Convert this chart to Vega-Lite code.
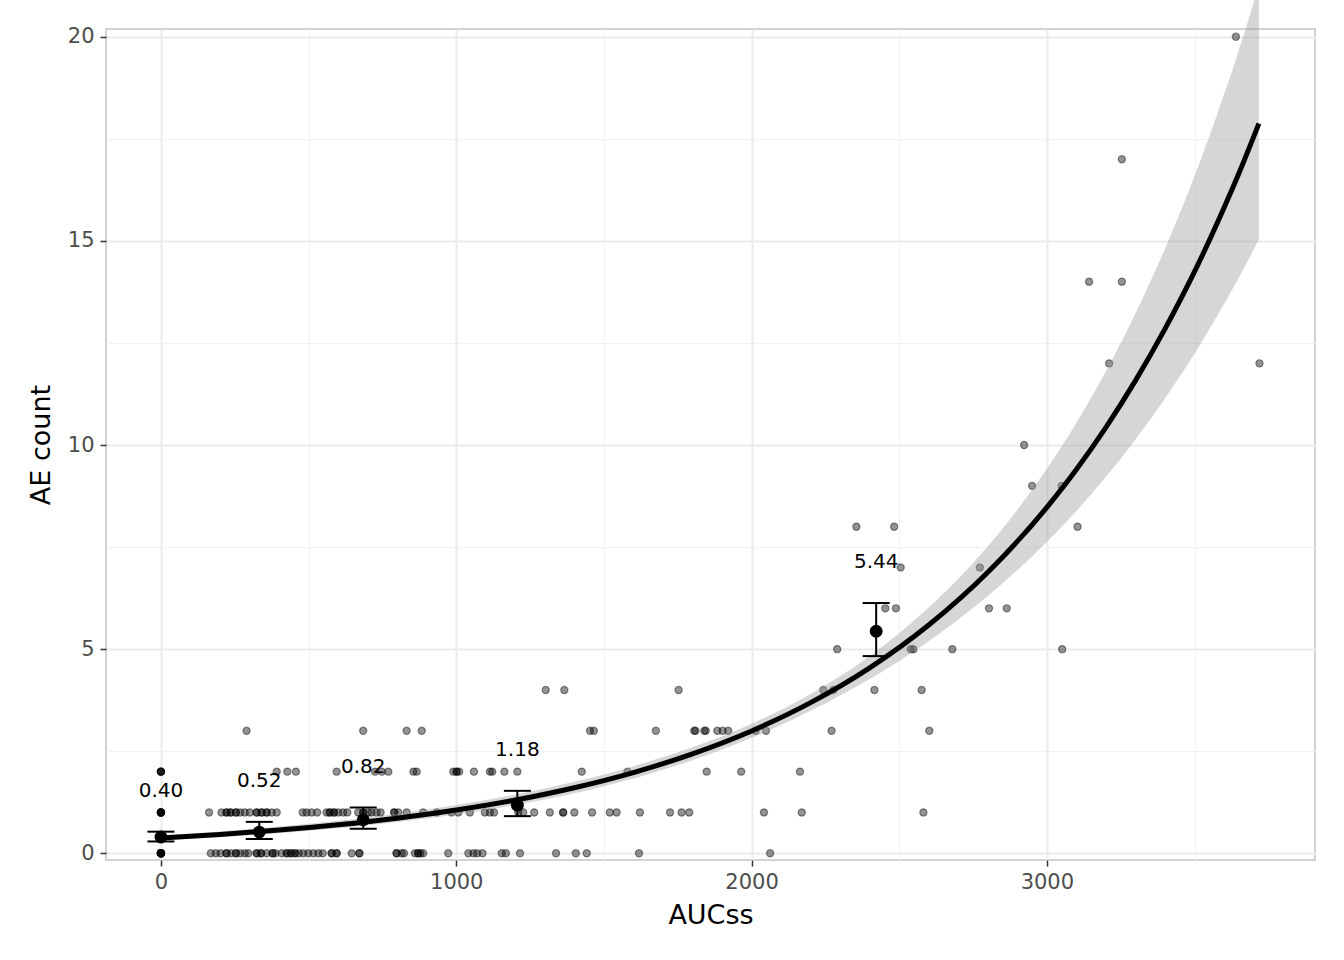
{
  "$schema": "https://vega.github.io/schema/vega-lite/v6.json",
  "width": 1209,
  "height": 831,
  "autosize": {"type": "none"},
  "padding": {"left": 106, "top": 29, "right": 29, "bottom": 100},
  "background": "#FFFFFF",
  "config": {
    "font": "DejaVu Sans",
    "view": {"stroke": "#C4C4C4", "strokeWidth": 1.5},
    "axis": {
      "domain": false,
      "tickColor": "#333333",
      "tickSize": 6,
      "tickWidth": 1.5,
      "labelColor": "#4D4D4D",
      "labelFontSize": 21,
      "labelFont": "DejaVu Sans",
      "titleFont": "DejaVu Sans",
      "titleFontSize": 27,
      "titleFontWeight": "normal",
      "titleColor": "#000000",
      "gridColor": "#EBEBEB",
      "gridWidth": 2
    }
  },
  "datasets": {
    "pts": [
      {"x":0,"y":0},{"x":0,"y":0},{"x":0,"y":0},{"x":0,"y":0},{"x":0,"y":0},{"x":0,"y":0},{"x":0,"y":0},{"x":0,"y":0},{"x":0,"y":0},{"x":0,"y":0},
      {"x":0,"y":1},{"x":0,"y":1},{"x":0,"y":1},{"x":0,"y":1},{"x":0,"y":1},{"x":0,"y":1},
      {"x":0,"y":2},{"x":0,"y":2},{"x":0,"y":2},{"x":0,"y":2},
      {"x":169,"y":0},{"x":186,"y":0},{"x":202,"y":0},{"x":222,"y":0},{"x":222,"y":0},{"x":237,"y":0},{"x":254,"y":0},{"x":254,"y":0},{"x":268,"y":0},{"x":284,"y":0},{"x":296,"y":0},{"x":324,"y":0},{"x":324,"y":0},{"x":339,"y":0},{"x":339,"y":0},{"x":358,"y":0},{"x":378,"y":0},{"x":378,"y":0},{"x":388,"y":0},{"x":409,"y":0},{"x":426,"y":0},{"x":426,"y":0},{"x":440,"y":0},{"x":440,"y":0},{"x":454,"y":0},{"x":454,"y":0},{"x":467,"y":0},{"x":482,"y":0},{"x":499,"y":0},{"x":516,"y":0},{"x":533,"y":0},{"x":548,"y":0},{"x":578,"y":0},{"x":578,"y":0},{"x":595,"y":0},{"x":595,"y":0},{"x":646,"y":0},{"x":672,"y":0},{"x":672,"y":0},{"x":798,"y":0},{"x":798,"y":0},{"x":815,"y":0},{"x":823,"y":0},{"x":860,"y":0},{"x":871,"y":0},{"x":871,"y":0},{"x":879,"y":0},{"x":888,"y":0},{"x":973,"y":0},{"x":1041,"y":0},{"x":1058,"y":0},{"x":1071,"y":0},{"x":1089,"y":0},{"x":1154,"y":0},{"x":1168,"y":0},{"x":1216,"y":0},{"x":1338,"y":0},{"x":1405,"y":0},{"x":1442,"y":0},{"x":1619,"y":0},{"x":2063,"y":0},
      {"x":163,"y":1},{"x":205,"y":1},{"x":222,"y":1},{"x":222,"y":1},{"x":236,"y":1},{"x":236,"y":1},{"x":254,"y":1},{"x":254,"y":1},{"x":268,"y":1},{"x":284,"y":1},{"x":301,"y":1},{"x":324,"y":1},{"x":324,"y":1},{"x":341,"y":1},{"x":341,"y":1},{"x":358,"y":1},{"x":358,"y":1},{"x":375,"y":1},{"x":392,"y":1},{"x":480,"y":1},{"x":493,"y":1},{"x":510,"y":1},{"x":529,"y":1},{"x":561,"y":1},{"x":572,"y":1},{"x":572,"y":1},{"x":586,"y":1},{"x":586,"y":1},{"x":600,"y":1},{"x":617,"y":1},{"x":631,"y":1},{"x":668,"y":1},{"x":685,"y":1},{"x":685,"y":1},{"x":702,"y":1},{"x":713,"y":1},{"x":730,"y":1},{"x":744,"y":1},{"x":790,"y":1},{"x":790,"y":1},{"x":804,"y":1},{"x":832,"y":1},{"x":888,"y":1},{"x":934,"y":1},{"x":984,"y":1},{"x":1007,"y":1},{"x":1046,"y":1},{"x":1097,"y":1},{"x":1114,"y":1},{"x":1128,"y":1},{"x":1210,"y":1},{"x":1227,"y":1},{"x":1264,"y":1},{"x":1317,"y":1},{"x":1362,"y":1},{"x":1362,"y":1},{"x":1400,"y":1},{"x":1460,"y":1},{"x":1520,"y":1},{"x":1543,"y":1},{"x":1622,"y":1},{"x":1724,"y":1},{"x":1763,"y":1},{"x":1789,"y":1},{"x":2042,"y":1},{"x":2170,"y":1},{"x":2582,"y":1},
      {"x":392,"y":2},{"x":428,"y":2},{"x":457,"y":2},{"x":595,"y":2},{"x":725,"y":2},{"x":748,"y":2},{"x":770,"y":2},{"x":855,"y":2},{"x":866,"y":2},{"x":990,"y":2},{"x":1001,"y":2},{"x":1001,"y":2},{"x":1010,"y":2},{"x":1060,"y":2},{"x":1114,"y":2},{"x":1122,"y":2},{"x":1163,"y":2},{"x":1207,"y":2},{"x":1425,"y":2},{"x":1580,"y":2},{"x":1848,"y":2},{"x":1965,"y":2},{"x":2164,"y":2},
      {"x":290,"y":3},{"x":685,"y":3},{"x":832,"y":3},{"x":883,"y":3},{"x":1453,"y":3},{"x":1466,"y":3},{"x":1676,"y":3},{"x":1806,"y":3},{"x":1810,"y":3},{"x":1840,"y":3},{"x":1845,"y":3},{"x":1884,"y":3},{"x":1902,"y":3},{"x":1921,"y":3},{"x":2014,"y":3},{"x":2049,"y":3},{"x":2271,"y":3},{"x":2602,"y":3},
      {"x":1303,"y":4},{"x":1366,"y":4},{"x":1753,"y":4},{"x":2243,"y":4},{"x":2277,"y":4},{"x":2416,"y":4},{"x":2576,"y":4},
      {"x":2290,"y":5},{"x":2539,"y":5},{"x":2548,"y":5},{"x":2680,"y":5},{"x":3052,"y":5},
      {"x":2453,"y":6},{"x":2489,"y":6},{"x":2804,"y":6},{"x":2864,"y":6},
      {"x":2505,"y":7},{"x":2773,"y":7},
      {"x":2355,"y":8},{"x":2483,"y":8},{"x":3104,"y":8},
      {"x":2950,"y":9},{"x":3050,"y":9},
      {"x":2923,"y":10},
      {"x":3211,"y":12},{"x":3720,"y":12},
      {"x":3143,"y":14},{"x":3254,"y":14},
      {"x":3254,"y":17},
      {"x":3640,"y":20}
    ],
    "fit": [
      {"x":0,"fit":0.375,"lo":0.320,"hi":0.440},
      {"x":200,"fit":0.462,"lo":0.397,"hi":0.536},
      {"x":400,"fit":0.568,"lo":0.494,"hi":0.654},
      {"x":600,"fit":0.700,"lo":0.614,"hi":0.797},
      {"x":800,"fit":0.861,"lo":0.764,"hi":0.971},
      {"x":1000,"fit":1.060,"lo":0.950,"hi":1.184},
      {"x":1200,"fit":1.305,"lo":1.181,"hi":1.443},
      {"x":1400,"fit":1.607,"lo":1.471,"hi":1.754},
      {"x":1600,"fit":1.978,"lo":1.833,"hi":2.134},
      {"x":1800,"fit":2.435,"lo":2.282,"hi":2.598},
      {"x":2000,"fit":2.997,"lo":2.831,"hi":3.173},
      {"x":2200,"fit":3.690,"lo":3.490,"hi":3.902},
      {"x":2400,"fit":4.543,"lo":4.271,"hi":4.833},
      {"x":2600,"fit":5.592,"lo":5.196,"hi":6.018},
      {"x":2800,"fit":6.884,"lo":6.302,"hi":7.520},
      {"x":3000,"fit":8.474,"lo":7.627,"hi":9.416},
      {"x":3100,"fit":9.400,"lo":8.385,"hi":10.538},
      {"x":3200,"fit":10.433,"lo":9.221,"hi":11.805},
      {"x":3300,"fit":11.577,"lo":10.137,"hi":13.221},
      {"x":3400,"fit":12.844,"lo":11.141,"hi":14.808},
      {"x":3500,"fit":14.246,"lo":12.239,"hi":16.582},
      {"x":3600,"fit":15.812,"lo":13.455,"hi":18.584},
      {"x":3650,"fit":16.650,"lo":14.098,"hi":19.666},
      {"x":3718,"fit":17.876,"lo":15.036,"hi":21.253}
    ],
    "summ": [
      {"x":0,"mean":0.40,"lo":0.29,"hi":0.53,"label":"0.40"},
      {"x":333,"mean":0.52,"lo":0.35,"hi":0.77,"label":"0.52"},
      {"x":685,"mean":0.82,"lo":0.60,"hi":1.12,"label":"0.82"},
      {"x":1207,"mean":1.18,"lo":0.91,"hi":1.53,"label":"1.18"},
      {"x":2422,"mean":5.44,"lo":4.83,"hi":6.13,"label":"5.44"}
    ]
  },
  "resolve": {"axis": {"x": "independent", "y": "independent"}},
  "layer": [
    {
      "data": {"name": "pts"},
      "mark": {"type": "circle", "size": 52, "fill": "#000000", "fillOpacity": 0.42, "stroke": "#000000", "strokeOpacity": 0.42, "strokeWidth": 1.2},
      "encoding": {
        "x": {"field": "x", "type": "quantitative", "scale": {"domain": [-186, 3908], "nice": false, "zero": false},
              "axis": {"orient": "bottom", "values": [500, 1500, 2500, 3500], "grid": true, "gridColor": "#F2F2F2", "gridWidth": 1, "labels": false, "ticks": false, "domain": false, "title": null}},
        "y": {"field": "y", "type": "quantitative", "scale": {"domain": [-0.164, 20.19], "nice": false, "zero": false},
              "axis": {"orient": "left", "values": [2.5, 7.5, 12.5, 17.5], "grid": true, "gridColor": "#F2F2F2", "gridWidth": 1, "labels": false, "ticks": false, "domain": false, "title": null}}
      }
    },
    {
      "data": {"name": "fit"},
      "mark": {"type": "area", "interpolate": "monotone", "fill": "#999999", "fillOpacity": 0.4, "clip": false},
      "encoding": {
        "x": {"field": "x", "type": "quantitative", "axis": null},
        "y": {"field": "lo", "type": "quantitative", "axis": null},
        "y2": {"field": "hi"}
      }
    },
    {
      "data": {"name": "fit"},
      "mark": {"type": "line", "interpolate": "monotone", "stroke": "#000000", "strokeWidth": 5},
      "encoding": {
        "x": {"field": "x", "type": "quantitative",
              "axis": {"orient": "bottom", "values": [0, 1000, 2000, 3000], "format": "d", "grid": true, "title": "AUCss", "labelPadding": 5, "titlePadding": 10}},
        "y": {"field": "fit", "type": "quantitative",
              "axis": {"orient": "left", "values": [0, 5, 10, 15, 20], "format": "d", "grid": true, "title": "AE count", "labelPadding": 6, "titlePadding": 12}}
      }
    },
    {
      "data": {"name": "summ"},
      "mark": {"type": "rule", "stroke": "#000000", "strokeWidth": 2},
      "encoding": {
        "x": {"field": "x", "type": "quantitative", "axis": null},
        "y": {"field": "lo", "type": "quantitative", "axis": null},
        "y2": {"field": "hi"}
      }
    },
    {
      "data": {"name": "summ"},
      "mark": {"type": "tick", "orient": "horizontal", "size": 27, "thickness": 2, "color": "#000000", "opacity": 1},
      "encoding": {
        "x": {"field": "x", "type": "quantitative", "axis": null},
        "y": {"field": "lo", "type": "quantitative", "axis": null}
      }
    },
    {
      "data": {"name": "summ"},
      "mark": {"type": "tick", "orient": "horizontal", "size": 27, "thickness": 2, "color": "#000000", "opacity": 1},
      "encoding": {
        "x": {"field": "x", "type": "quantitative", "axis": null},
        "y": {"field": "hi", "type": "quantitative", "axis": null}
      }
    },
    {
      "data": {"name": "summ"},
      "mark": {"type": "circle", "size": 165, "fill": "#000000", "opacity": 1},
      "encoding": {
        "x": {"field": "x", "type": "quantitative", "axis": null},
        "y": {"field": "mean", "type": "quantitative", "axis": null}
      }
    },
    {
      "data": {"name": "summ"},
      "mark": {"type": "text", "dy": -41, "fontSize": 20, "font": "DejaVu Sans", "color": "#000000", "baseline": "middle", "align": "center"},
      "encoding": {
        "x": {"field": "x", "type": "quantitative", "axis": null},
        "y": {"field": "hi", "type": "quantitative", "axis": null},
        "text": {"field": "label"}
      }
    }
  ]
}
